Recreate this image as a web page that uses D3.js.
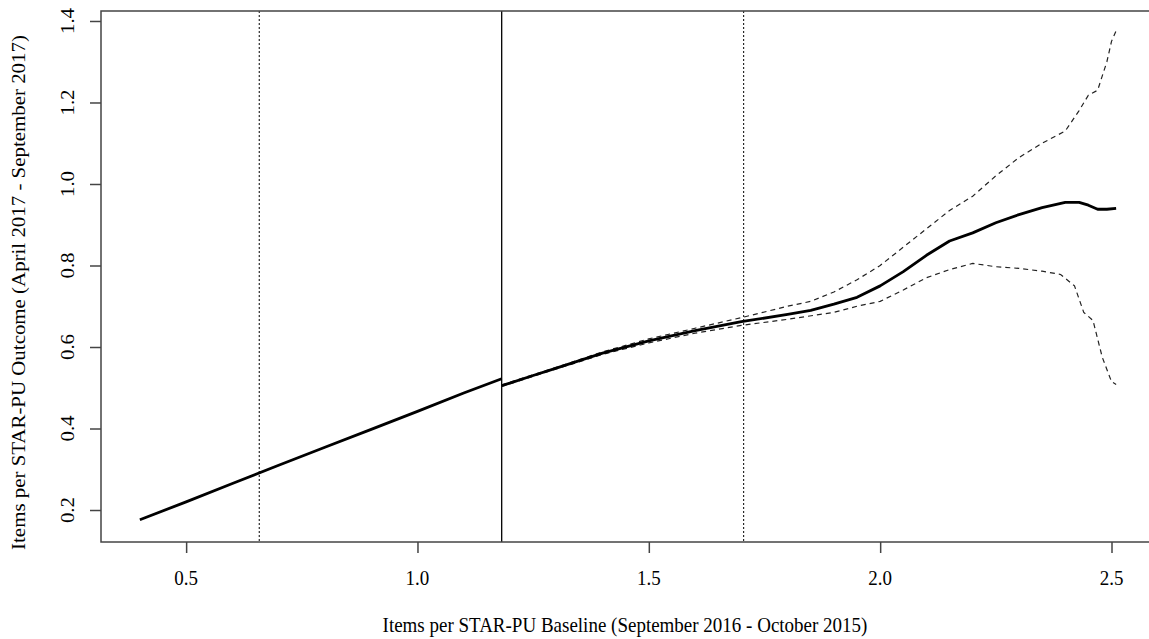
<!doctype html>
<html lang="en">
<head>
  <meta charset="utf-8">
  <title>Items per STAR-PU</title>
  <script src="https://cdnjs.cloudflare.com/ajax/libs/d3/7.8.5/d3.min.js"></script>
  <style>
    body { margin: 0; background: #fff; }
    svg { display: block; }
    text { font-family: "Liberation Serif", "DejaVu Serif", serif; fill: #000; }
  </style>
</head>
<body>
  <div id="chart"></div>
  <script>
    // fitted curve, lower segment (baseline below the cut)
    const fitLowX = [0.40, 0.50, 0.60, 0.70, 0.80, 0.90, 1.00, 1.10, 1.182];
    const fitLowY = [0.176, 0.220, 0.265, 0.310, 0.354, 0.398, 0.442, 0.487, 0.522];

    // fitted curve, upper segment
    const fitHighX = [1.182, 1.25, 1.30, 1.40, 1.50, 1.60, 1.70, 1.80, 1.85, 1.90, 1.95, 2.00,
                      2.05, 2.10, 2.15, 2.20, 2.25, 2.30, 2.35, 2.40, 2.43, 2.45, 2.47, 2.49, 2.51];
    const fitHighY = [0.505, 0.530, 0.548, 0.585, 0.615, 0.640, 0.662, 0.680, 0.690, 0.705, 0.722, 0.750,
                      0.785, 0.825, 0.860, 0.880, 0.905, 0.925, 0.942, 0.955, 0.955, 0.948, 0.938, 0.938, 0.940];

    // confidence bands
    const upperX = [1.182, 1.30, 1.40, 1.50, 1.60, 1.70, 1.80, 1.85, 1.90, 1.95, 2.00, 2.05, 2.10,
                    2.15, 2.20, 2.25, 2.30, 2.35, 2.40, 2.43, 2.45, 2.47, 2.49, 2.50, 2.51];
    const upperY = [0.507, 0.550, 0.588, 0.620, 0.646, 0.672, 0.700, 0.712, 0.735, 0.765, 0.800, 0.845, 0.890,
                    0.935, 0.970, 1.020, 1.065, 1.100, 1.130, 1.180, 1.218, 1.230, 1.300, 1.350, 1.376];
    const lowerX = [1.182, 1.30, 1.40, 1.50, 1.60, 1.70, 1.80, 1.90, 1.95, 2.00, 2.05, 2.10, 2.15,
                    2.20, 2.25, 2.30, 2.35, 2.39, 2.42, 2.44, 2.46, 2.48, 2.50, 2.51];
    const lowerY = [0.503, 0.546, 0.582, 0.610, 0.634, 0.653, 0.668, 0.685, 0.700, 0.712, 0.740, 0.770, 0.790,
                    0.805, 0.797, 0.793, 0.786, 0.778, 0.750, 0.685, 0.665, 0.575, 0.515, 0.508];

    // reference lines: cut point (solid) and +/- one step (dotted)
    const vDotted = [0.658, 1.705];
    const vSolid = [1.182];

    const xTicks = [0.5, 1.0, 1.5, 2.0, 2.5];
    const yTicks = [0.2, 0.4, 0.6, 0.8, 1.0, 1.2, 1.4];
    const xTitle = "Items per STAR-PU Baseline (September 2016 - October 2015)";
    const yTitle = "Items per STAR-PU Outcome (April 2017 - September 2017)";

    const W = 1149, H = 639;
    const pLeft = 101, pRight = 1155, pTop = 11, pBottom = 542;
    // the picture is a little taller than wide, so glyphs get stretched vertically
    const fs = 19, stretch = 1.1;

    const x = d3.scaleLinear().domain([0.316, 2.594]).range([pLeft, pRight]);
    const y = d3.scaleLinear().domain([0.1215, 1.4245]).range([pBottom, pTop]);
    const fmt = d3.format(".1f");

    const svg = d3.select("#chart").append("svg")
      .attr("width", W)
      .attr("height", H);

    const zip = (xs, ys) => xs.map((v, i) => [v, ys[i]]);
    const line = d3.line().x(d => x(d[0])).y(d => y(d[1]));

    // vertical reference lines
    svg.selectAll(".vdot").data(vDotted).enter().append("line")
      .attr("x1", d => x(d)).attr("x2", d => x(d))
      .attr("y1", pTop).attr("y2", pBottom)
      .attr("stroke", "#000").attr("stroke-width", 1)
      .attr("stroke-dasharray", "2,2");

    svg.selectAll(".vsol").data(vSolid).enter().append("line")
      .attr("x1", d => x(d)).attr("x2", d => x(d))
      .attr("y1", pTop).attr("y2", pBottom)
      .attr("stroke", "#000").attr("stroke-width", 1.3);

    // confidence bands
    [zip(upperX, upperY), zip(lowerX, lowerY)].forEach(pts => {
      svg.append("path")
        .attr("d", line(pts))
        .attr("fill", "none")
        .attr("stroke", "#222")
        .attr("stroke-width", 1.2)
        .attr("stroke-dasharray", "5,4");
    });

    // fitted curve
    [zip(fitLowX, fitLowY), zip(fitHighX, fitHighY)].forEach(pts => {
      svg.append("path")
        .attr("d", line(pts))
        .attr("fill", "none")
        .attr("stroke", "#000")
        .attr("stroke-width", 2.8)
        .attr("stroke-linejoin", "round");
    });

    // box
    svg.append("rect")
      .attr("x", pLeft).attr("y", pTop)
      .attr("width", pRight - pLeft).attr("height", pBottom - pTop)
      .attr("fill", "none").attr("stroke", "#444").attr("stroke-width", 1.5);

    // x axis ticks
    const xAxis = svg.append("g")
      .attr("transform", `translate(0,${pBottom})`)
      .call(d3.axisBottom(x).tickValues(xTicks).tickFormat("").tickSize(11));
    xAxis.select(".domain").remove();
    xAxis.selectAll("line").attr("stroke", "#444").attr("stroke-width", 1.5);

    svg.selectAll(".xlab").data(xTicks).enter().append("text")
      .attr("transform", d => `translate(${x(d)},${pBottom + 43}) scale(1,${stretch})`)
      .attr("text-anchor", "middle")
      .attr("font-size", fs)
      .text(fmt);

    // y axis ticks, labels rotated like base R
    const yAxis = svg.append("g")
      .attr("transform", `translate(${pLeft},0)`)
      .call(d3.axisLeft(y).tickValues(yTicks).tickFormat("").tickSize(11));
    yAxis.select(".domain").remove();
    yAxis.selectAll("line").attr("stroke", "#444").attr("stroke-width", 1.5);

    svg.selectAll(".ylab").data(yTicks).enter().append("text")
      .attr("transform", d => `translate(${pLeft - 27},${y(d)}) rotate(-90) scale(${stretch},1)`)
      .attr("text-anchor", "middle")
      .attr("font-size", fs)
      .text(fmt);

    // axis titles
    svg.append("text")
      .attr("transform", `translate(${(pLeft + pRight) / 2 - 3},632) scale(1,${stretch})`)
      .attr("text-anchor", "middle")
      .attr("font-size", fs)
      .text(xTitle);

    svg.append("text")
      .attr("transform", `translate(25,${(pTop + pBottom) / 2 + 16}) rotate(-90) scale(${stretch},1)`)
      .attr("text-anchor", "middle")
      .attr("font-size", fs)
      .text(yTitle);
  </script>
</body>
</html>
